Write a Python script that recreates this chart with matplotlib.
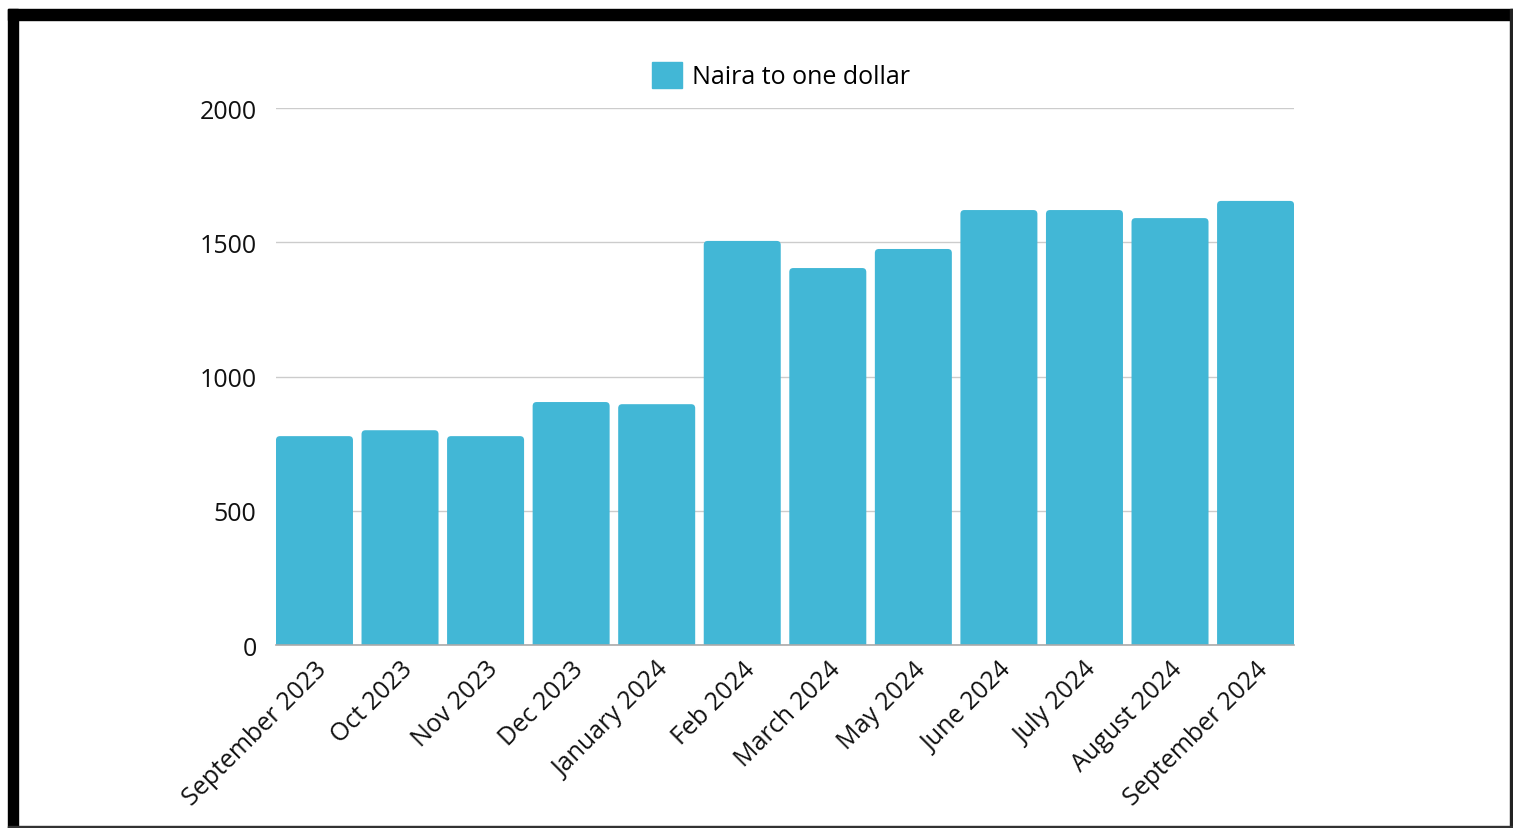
import matplotlib.pyplot as plt
from matplotlib.patches import Rectangle, Patch, FancyBboxPatch

plt.rcParams['font.family'] = ['Open Sans', 'DejaVu Sans']

months = ["September 2023", "Oct 2023", "Nov 2023", "Dec 2023", "January 2024",
          "Feb 2024", "March 2024", "May 2024", "June 2024", "July 2024",
          "August 2024", "September 2024"]
naira = [778, 800, 778, 905, 897, 1505, 1404, 1475, 1620, 1620, 1590, 1654]

color = '#42b7d6'
bar_w = 0.9

fig = plt.figure(figsize=(15.13, 8.29), dpi=100)
ax = fig.add_axes([0.1824, 0.2207, 0.6729, 0.6478])

x = list(range(len(months)))
ax.set_xlim(-bar_w / 2, len(months) - 1 + bar_w / 2)
ax.set_ylim(0, 2000)

# bars with slightly rounded top corners
bars = ax.bar(x, naira, width=bar_w, color=color, zorder=3)
px_x = 1018 / (len(months) - 1 + bar_w)   # pixels per x unit
px_y = 537 / 2000                          # pixels per y unit
r = 4 / px_x
for b in bars:
    x0, w, h = b.get_x(), b.get_width(), b.get_height()
    b.set_visible(False)
    ax.add_patch(FancyBboxPatch((x0, -30), w, h + 30,
                                boxstyle=f"round,pad=0,rounding_size={r}",
                                mutation_aspect=px_x / px_y,
                                facecolor=color, edgecolor='none', zorder=3))

ax.set_yticks([0, 500, 1000, 1500, 2000])
ax.grid(axis='y', color='#cccccc', linewidth=1, zorder=0)
ax.set_axisbelow(True)
for s in ['top', 'right', 'left']:
    ax.spines[s].set_visible(False)
ax.spines['bottom'].set_color('#aaaaaa')
ax.spines['bottom'].set_linewidth(1.2)
ax.spines['bottom'].set_zorder(4)
ax.tick_params(axis='both', length=0, labelsize=18, colors='#111111')
ax.tick_params(axis='y', pad=14)
ax.tick_params(axis='x', pad=8)
ax.set_xticks(x)
ax.set_xticklabels(months, rotation=45, ha='right', rotation_mode='anchor')

ax.legend(handles=[Patch(color=color, label='Naira to one dollar')],
          loc='lower center', bbox_to_anchor=(0.496, 0.993), frameon=False,
          fontsize=18, handlelength=1.2, handleheight=1.2, handletextpad=0.4)

# frame around the picture
fig.patches.append(Rectangle((8 / 1513, 0), 10 / 1513, 1 - 10 / 829,
                             transform=fig.transFigure, color='black'))
fig.patches.append(Rectangle((8 / 1513, 1 - 21 / 829), 1505 / 1513, 11 / 829,
                             transform=fig.transFigure, color='black'))
fig.patches.append(Rectangle((1510 / 1513, 0), 3 / 1513, 1 - 10 / 829,
                             transform=fig.transFigure, color='#222222'))
fig.patches.append(Rectangle((8 / 1513, 0), 1505 / 1513, 2 / 829,
                             transform=fig.transFigure, color='#333333'))

fig.savefig('out.png', dpi=100)
